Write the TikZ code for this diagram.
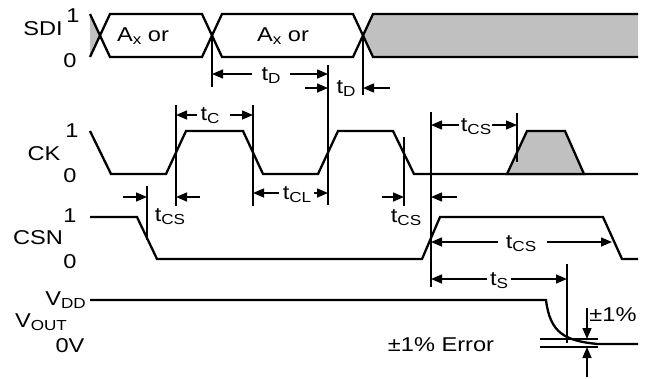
\documentclass[tikz,border=0pt]{standalone}
\usepackage{fontspec}
\setmainfont{Liberation Sans}[FakeStretch=1.18]
\usetikzlibrary{arrows.meta}
\definecolor{fillgrey}{RGB}{192,192,192}
\newcommand{\lsub}[1]{\raisebox{-3pt}{\fontsize{14.5}{14.5}\selectfont #1}}
\begin{document}
\begin{tikzpicture}[x=1pt,y=-1pt,
  sig/.style={line width=2.3pt, line join=miter},
  dim/.style={line width=1.5pt},
  arr/.style={dim,-{Stealth[length=11pt,width=9pt,inset=0pt]}},
  lbl/.style={font=\fontsize{20}{20}\selectfont, inner sep=0pt}]
\useasboundingbox (0,0) rectangle (651,378);

% ---------------- SDI ----------------
\fill[fillgrey] (90,14) -- (100,35.5) -- (90,57) -- cycle;
\fill[fillgrey] (363,35.5) -- (373,14) -- (638,14) -- (638,57) -- (373,57) -- cycle;
\draw[sig] (90,14) -- (110,57) -- (202,57) -- (222,14) -- (353,14) -- (373,57) -- (638,57);
\draw[sig] (90,57) -- (110,14) -- (202,14) -- (222,57) -- (353,57) -- (373,14) -- (638,14);
\node[lbl] (ax1) at (143,36) {A\lsub{x} or};
\node[lbl] (ax2) at (283,36) {A\lsub{x} or};

% ---------------- CK ----------------
\draw[sig] (90,131) -- (111,174) -- (166,174) -- (186,131) -- (243,131) -- (263,174)
  -- (318,174) -- (338,131) -- (393,131) -- (414,174) -- (638,174);
\draw[sig, fill=fillgrey] (507,174) -- (527,131) -- (565,131) -- (584,174) -- cycle;

% ---------------- CSN ----------------
\draw[sig] (90,217) -- (137,217) -- (157,259) -- (422,259) -- (440,217) -- (603,217) -- (622,259) -- (638,259);

% ---------------- VOUT ----------------
\draw[sig] (90,300) -- (546,300) .. controls (550,333) and (565,341) .. (598,344) -- (638,344);
\coordinate (b1l) at (540,339); \coordinate (b1r) at (598,339);
\coordinate (b2l) at (540,347); \coordinate (b2r) at (598,347);
\draw[dim] (b1l) -- (b1r);
\draw[dim] (b2l) -- (b2r);

% ---------------- vertical reference lines ----------------
\coordinate (v1t) at (212,36);  \coordinate (v1b) at (212,87);
\coordinate (v2t) at (328,65);  \coordinate (v2b) at (328,205);
\coordinate (v3t) at (363,36);  \coordinate (v3b) at (363,95);
\coordinate (v4t) at (176,105); \coordinate (v4b) at (176,206);
\coordinate (v5t) at (253,105); \coordinate (v5b) at (253,206);
\coordinate (v6t) at (147,186); \coordinate (v6b) at (147,240);
\coordinate (v7t) at (404,137); \coordinate (v7b) at (404,206);
\coordinate (v8t) at (431,112); \coordinate (v8b) at (431,287);
\coordinate (v9t) at (517,113); \coordinate (v9b) at (517,162);
\coordinate (v10t) at (567,264); \coordinate (v10b) at (567,343);
\foreach \v in {1,...,10} \draw[dim] (v\v t) -- (v\v b);

% ---------------- dimension labels and arrows ----------------
\node[lbl] (tD1) at (271,76) {t\lsub{D}};
\draw[arr] (252,74) -- (212,74);
\draw[arr] (290,74) -- (328,74);

\node[lbl] (tD2) at (346,89) {t\lsub{D}};
\draw[arr] (305,88) -- (328,88);
\draw[arr] (390,88) -- (363,88);

\node[lbl] (tC) at (210,116) {t\lsub{C}};
\draw[arr] (197,115) -- (176,115);
\draw[arr] (230,115) -- (253,115);

\node[lbl] (tCL) at (297,195) {t\lsub{CL}};
\draw[arr] (279,193) -- (253,193);
\draw[arr] (314,193) -- (328,193);

\node[lbl] (tCS1) at (170,217) {t\lsub{CS}};
\draw[arr] (123,197) -- (147,197);
\draw[arr] (200,197) -- (176,197);

\node[lbl] (tCS2) at (406,218) {t\lsub{CS}};
\draw[arr] (382,197) -- (404,197);
\draw[arr] (457,197) -- (431,197);

\node[lbl] (tCS3) at (476,127) {t\lsub{CS}};
\draw[arr] (459,125) -- (431,125);
\draw[arr] (492,125) -- (517,125);

\node[lbl] (tCS4) at (521,244) {t\lsub{CS}};
\draw[arr] (498,242) -- (431,242);
\draw[arr] (547,242) -- (612,242);

\node[lbl] (tS) at (499,281) {t\lsub{S}};
\draw[arr] (487,279) -- (431,279);
\draw[arr] (511,279) -- (567,279);

\draw[arr] (587,308) -- (587,339);
\draw[arr] (587,377) -- (587,347);
\node[lbl] (pm1) at (613,315) {±1\%};
\node[lbl] (err) at (441,345) {±1\% Error};

% ---------------- left labels ----------------
\node[lbl] (sdi) at (43,29) {SDI};
\node[lbl] (sdi1) at (73,16) {1};
\node[lbl] (sdi0) at (70,61) {0};
\node[lbl] (ck) at (44,154) {CK};
\node[lbl] (ck1) at (72,131) {1};
\node[lbl] (ck0) at (70,176) {0};
\node[lbl] (csn) at (38,238) {CSN};
\node[lbl] (csn1) at (70,216) {1};
\node[lbl] (csn0) at (70,262) {0};
\node[lbl, anchor=east] (vdd) at (86,300) {V\lsub{DD}};
\node[lbl] (vout) at (41,322) {V\lsub{OUT}};
\node[lbl] (zv) at (70,346) {0V};
\end{tikzpicture}
\end{document}
